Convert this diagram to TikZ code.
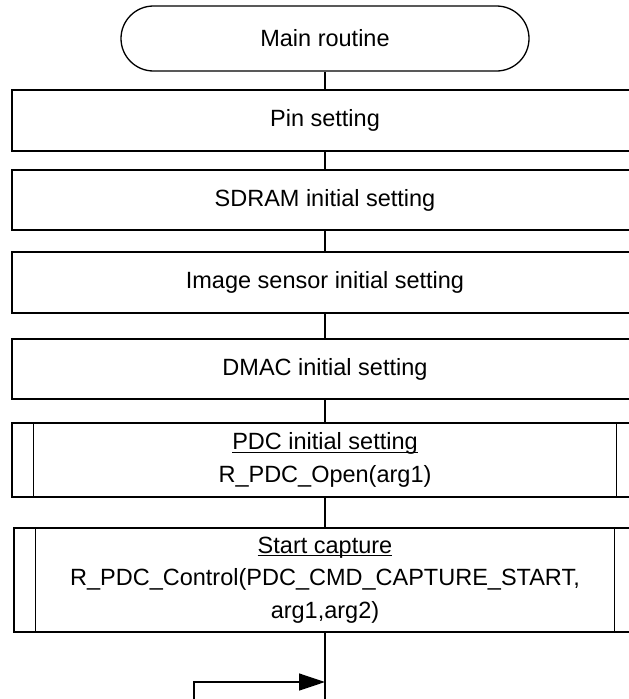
\documentclass[tikz,border=0pt]{standalone}
\usepackage{fontspec}
\setmainfont{Liberation Sans}
\usetikzlibrary{arrows.meta}
\newcommand\myul[1]{\setbox0\hbox{#1}\rlap{\rule[-3pt]{\wd0}{1.2pt}}\box0}
\begin{document}
\begin{tikzpicture}[x=1pt,y=-1pt,
  every node/.style={font=\fontsize{23.5}{32.5}\selectfont, align=center, inner sep=0pt},
  terminal/.style={draw, line width=1.3pt, rounded corners=32.5pt, minimum width=408pt, minimum height=65pt},
  procbox/.style={draw, line width=1.3pt, minimum width=626pt},
  subbox/.style={draw, line width=1.3pt},
  conn/.style={line width=1.3pt},
  sepline/.style={line width=1.1pt}
]
\useasboundingbox (0,0) rectangle (629,699);
\clip (0,0) rectangle (629,699);
\fill[white] (0,0) rectangle (629,699);

\node[terminal] (main) at (325,38.5) {Main routine};
\node[procbox, minimum height=61pt] (pin) at (325,120.5) {Pin setting};
\node[procbox, minimum height=60pt] (sdram) at (325,200) {SDRAM initial setting};
\node[procbox, minimum height=61pt] (img) at (325,282.5) {Image sensor initial setting};
\node[procbox, minimum height=60pt] (dmac) at (325,369) {DMAC initial setting};
\node[subbox, minimum width=626pt, minimum height=74pt] (pdc) at (325,460) {\myul{PDC initial setting}\\R\_PDC\_Open(arg1)};
\node[subbox, minimum width=622pt, minimum height=104pt] (cap) at (325,580) {\myul{Start capture}\\R\_PDC\_Control(PDC\_CMD\_CAPTURE\_START,\\arg1,arg2)};

\draw[sepline] ([xshift=22pt]pdc.north west) -- ([xshift=22pt]pdc.south west);
\draw[sepline] ([xshift=-22pt]pdc.north east) -- ([xshift=-22pt]pdc.south east);
\draw[sepline] ([xshift=22pt]cap.north west) -- ([xshift=22pt]cap.south west);
\draw[sepline] ([xshift=-22pt]cap.north east) -- ([xshift=-22pt]cap.south east);

\draw[conn] (main) -- (pin);
\draw[conn] (pin) -- (sdram);
\draw[conn] (sdram) -- (img);
\draw[conn] (img) -- (dmac);
\draw[conn] (dmac) -- (pdc);
\draw[conn] (pdc) -- (cap);

\coordinate (bot) at (325,710);
\coordinate (join) at (325,682);
\coordinate (loopstart) at (194,710);
\draw[conn] (cap) -- (bot);
\draw[conn, -{Triangle[length=26pt,width=17pt]}] (loopstart) |- (join);
\end{tikzpicture}
\end{document}
